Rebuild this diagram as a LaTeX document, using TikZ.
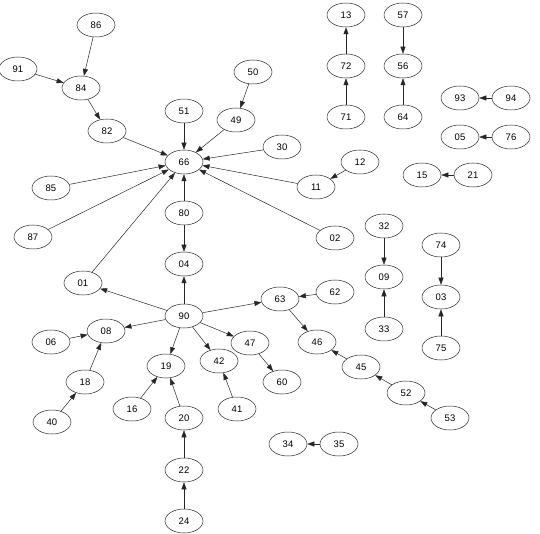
\documentclass[tikz,border=0pt]{standalone}
\usepackage{fontspec}
\setmainfont{Liberation Sans}
\usetikzlibrary{arrows.meta,shapes.geometric}
\begin{document}
\begin{tikzpicture}[x=1pt,y=-1pt,
  nd/.style={draw=black!85,ellipse,line width=0.5pt,minimum width=38pt,minimum height=24pt,inner sep=0pt,font=\fontsize{9.5}{10}\selectfont},
  ar/.style={draw=black!85,line width=0.5pt,-{Triangle[length=7pt,width=5pt]}}]
\useasboundingbox (0,0) rectangle (540,534);
\foreach \n/\x/\y in {86/96/25,91/18/69,84/81/88,82/107/131,51/184/111,50/253/72,49/236/120,66/184/162,30/282/147,12/360/162,11/316/187,85/51/188,87/33/237,80/184/213,02/335/238,04/184/264,01/83/283,90/184/316,63/280/299,62/335/292,08/106/331,06/51/342,47/250/343,46/317/342,19/166/366,42/219/361,60/282/382,45/361/367,18/85/382,16/132/409,20/184/418,41/237/409,52/406/393,40/52/422,53/450/418,34/288/444,35/339/444,22/184/470,24/184/521,13/346/15,57/403/15,72/346/66,56/403/66,71/346/117,64/403/117,93/460/98,94/511/98,05/460/137,76/511/137,15/422/175,21/473/175,32/384/226,74/441/245,09/384/277,03/441/297,33/384/329,75/441/348}
  \node[nd] (n\n) at (\x,\y) {\n};
\foreach \a/\b in {86/84,91/84,84/82,82/66,51/66,49/66,50/49,30/66,11/66,12/11,02/66,85/66,87/66,01/66,80/66,80/04,90/04,90/01,90/08,90/19,90/42,90/47,90/63,62/63,63/46,47/60,45/46,52/45,53/52,06/08,18/08,40/18,16/19,20/19,22/20,24/22,41/42,35/34,72/13,57/56,71/72,64/56,94/93,76/05,21/15,32/09,33/09,74/03,75/03}
  \draw[ar] (n\a) -- (n\b);
\end{tikzpicture}
\end{document}
